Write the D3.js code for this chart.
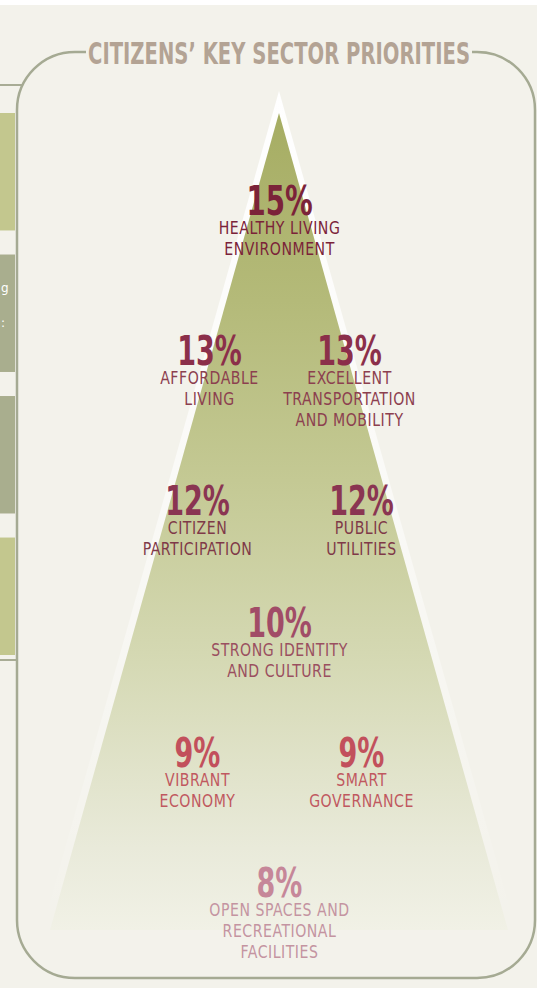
<!DOCTYPE html>
<html>
<head>
<meta charset="utf-8">
<script src="https://cdn.jsdelivr.net/npm/d3@7"></script>
<style>
  html, body { margin: 0; padding: 0; background: #f3f2eb; }
  svg { display: block; }
</style>
</head>
<body>
<svg id="chart"></svg>
<script>
'use strict';

// Sector priorities
var sectors = [
  ['HEALTHY LIVING', 'ENVIRONMENT'],
  ['AFFORDABLE', 'LIVING'],
  ['EXCELLENT', 'TRANSPORTATION', 'AND MOBILITY'],
  ['CITIZEN', 'PARTICIPATION'],
  ['PUBLIC', 'UTILITIES'],
  ['STRONG IDENTITY', 'AND CULTURE'],
  ['VIBRANT', 'ECONOMY'],
  ['SMART', 'GOVERNANCE'],
  ['OPEN SPACES AND', 'RECREATIONAL', 'FACILITIES']
];
var shares = [15, 13, 13, 12, 12, 10, 9, 9, 8];
var tiers = [0, 1, 1, 2, 2, 3, 4, 4, 5];
var sides = ['center', 'left', 'right', 'left', 'right', 'center', 'left', 'right', 'center'];
var title = 'CITIZENS\u2019 KEY SECTOR PRIORITIES';

// cut-off panel blocks on the left edge
var sideBlocks = ['light', 'dark', 'dark', 'light'];

var canvasWidth = 537;
var canvasHeight = 988;
var fontStack = '"Liberation Sans Narrow", "DejaVu Sans Condensed", "DejaVu Sans", sans-serif';

var svg = d3.select('#chart')
  .attr('width', canvasWidth)
  .attr('height', canvasHeight);

// squeeze a text horizontally (no narrow font installed)
function condense(sel, factor) {
  sel.each(function() {
    var w = this.getComputedTextLength();
    d3.select(this)
      .attr('textLength', w * factor)
      .attr('lengthAdjust', 'spacingAndGlyphs');
  });
}

var defs = svg.append('defs');
var grad = defs.append('linearGradient')
  .attr('id', 'pyr')
  .attr('x1', 0).attr('y1', 0).attr('x2', 0).attr('y2', 1);
[[0, '#a6ad63'], [0.23, '#b4ba79'], [0.45, '#c4c994'], [0.66, '#d4d8b2'], [0.9, '#e9eada'], [1, '#f1f1e6']]
  .forEach(function(s) {
    grad.append('stop').attr('offset', s[0]).attr('stop-color', s[1]);
  });
var glow = defs.append('linearGradient')
  .attr('id', 'glow')
  .attr('x1', 0).attr('y1', 0).attr('x2', 0).attr('y2', 1);
glow.append('stop').attr('offset', 0).attr('stop-color', '#ffffff').attr('stop-opacity', 1);
glow.append('stop').attr('offset', 0.45).attr('stop-color', '#ffffff').attr('stop-opacity', 0.6);
glow.append('stop').attr('offset', 1).attr('stop-color', '#ffffff').attr('stop-opacity', 0);

// white strip at top
svg.append('rect').attr('x', 0).attr('y', 0).attr('width', canvasWidth).attr('height', 5).attr('fill', '#ffffff');

// left neighbour panel
var blockY = d3.scaleBand().domain(d3.range(sideBlocks.length)).range([113, 655]).paddingInner(0.17).paddingOuter(0);
var blockColor = d3.scaleOrdinal().domain(['light', 'dark']).range(['#c3c78e', '#a9ae8e']);
svg.selectAll('.sideblock')
  .data(sideBlocks)
  .enter().append('rect')
  .attr('class', 'sideblock')
  .attr('x', 0)
  .attr('y', function(d, i) { return blockY(i); })
  .attr('width', 15)
  .attr('height', blockY.bandwidth())
  .attr('fill', function(d) { return blockColor(d); });
svg.append('text').attr('x', 1).attr('y', 292).attr('fill', '#ffffff')
  .style('font', '12px "DejaVu Sans", sans-serif').text('g');
svg.append('text').attr('x', 1).attr('y', 327).attr('fill', '#ffffff')
  .style('font', '12px "DejaVu Sans", sans-serif').text(':');
svg.append('line').attr('x1', 0).attr('x2', 22).attr('y1', 85).attr('y2', 85)
  .attr('stroke', '#a8ac95').attr('stroke-width', 2);
svg.append('line').attr('x1', 0).attr('x2', 17).attr('y1', 660).attr('y2', 660)
  .attr('stroke', '#a8ac95').attr('stroke-width', 2);

// rounded frame
svg.append('rect')
  .attr('x', 17).attr('y', 52)
  .attr('width', 518).attr('height', 926)
  .attr('rx', 58).attr('ry', 58)
  .attr('fill', '#f3f2eb')
  .attr('stroke', '#a5aa93')
  .attr('stroke-width', 2.5);

// pyramid
var apexX = 279;
var line = d3.line();
svg.append('path')
  .attr('d', line([[apexX, 91], [apexX + 237, 930], [apexX - 237, 930]]) + 'Z')
  .attr('fill', 'url(#glow)');
svg.append('path')
  .attr('d', line([[apexX, 113], [apexX + 229, 930], [apexX - 229, 930]]) + 'Z')
  .attr('fill', 'url(#pyr)');

// title over the frame's top edge
svg.append('rect')
  .attr('x', 86).attr('y', 40).attr('width', 386).attr('height', 26)
  .attr('fill', '#f3f2eb');
svg.append('text')
  .attr('x', 279).attr('y', 64)
  .attr('text-anchor', 'middle')
  .attr('fill', '#b3a394')
  .attr('textLength', 382)
  .attr('lengthAdjust', 'spacingAndGlyphs')
  .style('font-family', fontStack)
  .style('font-weight', 'bold')
  .style('font-size', '30px')
  .text(title);

// layout scales
var tierY = d3.scaleOrdinal().domain(d3.range(6)).range([215, 365, 515, 637, 767, 897]);
var tierOffset = d3.scaleOrdinal().domain(d3.range(6)).range([0, 70, 82, 0, 82, 0]);
var sideSign = d3.scaleOrdinal().domain(['left', 'center', 'right']).range([-1, 0, 1]);
var pctColor = d3.scaleOrdinal().domain(d3.range(6))
  .range(['#7b2339', '#8b2f4a', '#8a3552', '#a14c67', '#c2505c', '#c68799']);
var labelColor = d3.scaleOrdinal().domain(d3.range(6))
  .range(['#7b2339', '#8c404f', '#7f3948', '#9a4f60', '#c0585f', '#c494a1']);

var items = shares.map(function(v, i) {
  return { share: v, lines: sectors[i], tier: tiers[i], side: sides[i] };
});

var groups = svg.selectAll('.sector')
  .data(items)
  .enter().append('g')
  .attr('class', 'sector')
  .attr('transform', function(d) {
    return 'translate(' + (apexX + 0.5 + sideSign(d.side) * tierOffset(d.tier)) + ',' + tierY(d.tier) + ')';
  });

groups.append('text')
  .attr('class', 'pct')
  .attr('text-anchor', 'middle')
  .attr('fill', function(d) { return pctColor(d.tier); })
  .style('font-family', fontStack)
  .style('font-weight', 'bold')
  .style('font-size', function(d) { return d.tier === 0 ? '41px' : '40px'; })
  .text(function(d) { return d.share + '%'; })
  .call(condense, 0.75);

groups.append('text')
  .attr('text-anchor', 'middle')
  .attr('fill', function(d) { return labelColor(d.tier); })
  .style('font-family', fontStack)
  .style('font-size', '18px')
  .style('letter-spacing', '0.6px')
  .selectAll('tspan')
  .data(function(d) { return d.lines; })
  .enter().append('tspan')
  .attr('x', 0)
  .attr('y', function(d, i) { return 19 + i * 21; })
  .text(function(d) { return d; })
  .call(condense, 0.87);
</script>
</body>
</html>
